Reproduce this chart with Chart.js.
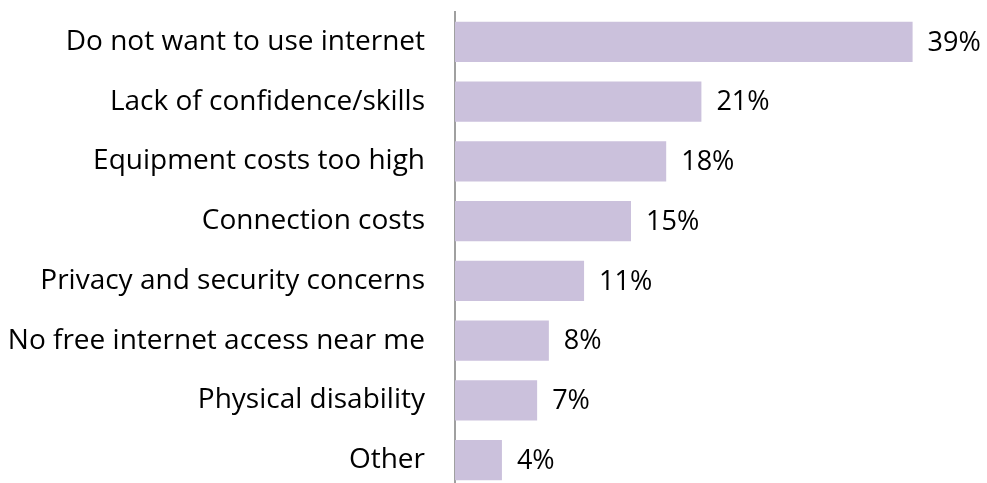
<!DOCTYPE html>
<html>
<head>
<meta charset="utf-8">
<script src="https://cdn.jsdelivr.net/npm/chart.js@4"></script>
<style>
  html, body { margin: 0; padding: 0; background: #fff; overflow: hidden; }
</style>
</head>
<body>
<canvas id="reasons" width="987" height="490"></canvas>
<script>
const reasons = [
  'Do not want to use internet',
  'Lack of confidence/skills',
  'Equipment costs too high',
  'Connection costs',
  'Privacy and security concerns',
  'No free internet access near me',
  'Physical disability',
  'Other'
];
const shares = [39, 21, 18, 15, 11, 8, 7, 4];

const FONT = '"Open Sans", sans-serif';

// percentage text just past the end of each bar
const valueLabels = {
  id: 'valueLabels',
  afterDatasetsDraw(chart) {
    const ctx = chart.ctx;
    const meta = chart.getDatasetMeta(0);
    ctx.save();
    ctx.font = '27px ' + FONT;
    ctx.fillStyle = '#000';
    ctx.textAlign = 'left';
    ctx.textBaseline = 'middle';
    meta.data.forEach((bar, i) => {
      ctx.fillText(shares[i] + '%', bar.x + 15, bar.y + 1);
    });
    ctx.restore();
  }
};

new Chart(document.getElementById('reasons'), {
  type: 'bar',
  data: {
    labels: reasons,
    datasets: [{
      data: shares,
      backgroundColor: '#cbc1dc',
      borderWidth: 0,
      categoryPercentage: 1,
      barPercentage: 0.673
    }]
  },
  options: {
    indexAxis: 'y',
    responsive: false,
    animation: false,
    layout: { padding: { top: 12, right: 4, bottom: 0, left: 0 } },
    plugins: {
      legend: { display: false },
      tooltip: { enabled: false }
    },
    scales: {
      x: {
        display: false,
        min: 0,
        max: 45
      },
      y: {
        grid: { display: false, drawTicks: false },
        border: { display: true, color: '#a0a0a0', width: 2 },
        ticks: {
          color: '#000',
          padding: 30,
          font: { family: FONT, size: 28 }
        },
        afterFit(scale) {
          // fixed axis position; no extra room above/below for the labels
          scale.width = 455;
          scale.paddingTop = 0;
          scale.paddingBottom = 0;
        }
      }
    }
  },
  plugins: [valueLabels]
});
</script>
</body>
</html>
